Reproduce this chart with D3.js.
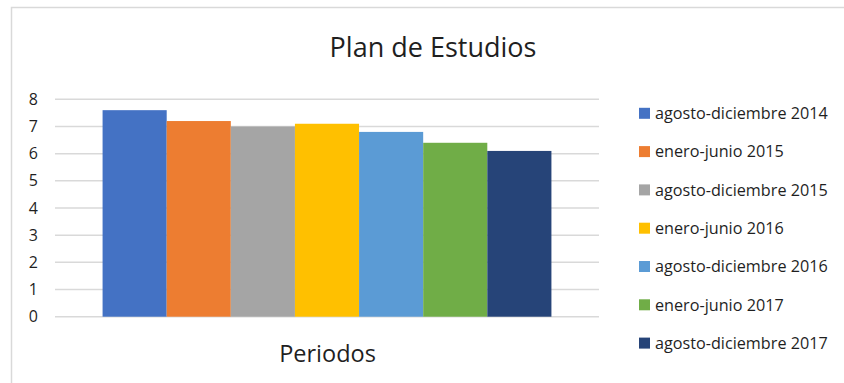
<!DOCTYPE html>
<html>
<head>
<meta charset="utf-8">
<script src="https://cdn.jsdelivr.net/npm/d3@7"></script>
<style>
  html, body { margin: 0; padding: 0; background: #fff; }
  svg { display: block; }
  text { font-family: "Open Sans", "Liberation Sans", sans-serif; fill: #1f1f1f; }
</style>
</head>
<body>
<svg id="chart" width="844" height="383"></svg>
<script>
// Chart data
const title = "Plan de Estudios";
const category = "Periodos";
const seriesNames = [
  "agosto-diciembre 2014",
  "enero-junio 2015",
  "agosto-diciembre 2015",
  "enero-junio 2016",
  "agosto-diciembre 2016",
  "enero-junio 2017",
  "agosto-diciembre 2017"
];
const seriesValues = [7.6, 7.2, 7.0, 7.1, 6.8, 6.4, 6.1];
const seriesColors = ["#4472C4", "#ED7D31", "#A5A5A5", "#FFC000", "#5B9BD5", "#70AD47", "#264478"];
const yTicks = [0, 1, 2, 3, 4, 5, 6, 7, 8];

const svg = d3.select("#chart");

// Chart area frame (continues past the right and bottom edges)
svg.append("rect")
  .attr("x", 11.5).attr("y", 7.5)
  .attr("width", 860).attr("height", 400)
  .attr("fill", "#fff")
  .attr("stroke", "#d9d9d9").attr("stroke-width", 1.5);

const plot = { left: 55, right: 599, top: 99.3, bottom: 316.7 };

const y = d3.scaleLinear().domain([0, 8]).range([plot.bottom, plot.top]);

const x0 = d3.scaleBand()
  .domain([category])
  .range([plot.left, plot.right])
  .paddingOuter(0.106);

const x1 = d3.scaleBand()
  .domain(seriesNames)
  .range([0, x0.bandwidth()])
  .padding(0);

const color = d3.scaleOrdinal().domain(seriesNames).range(seriesColors);

// Gridlines
svg.append("g")
  .selectAll("line")
  .data(yTicks)
  .join("line")
  .attr("x1", plot.left).attr("x2", plot.right)
  .attr("y1", d => y(d)).attr("y2", d => y(d))
  .attr("stroke", "#d9d9d9").attr("stroke-width", 1.5);

// Y axis labels
const yAxis = d3.axisLeft(y).tickValues(yTicks).tickSize(0).tickPadding(0).tickFormat(d3.format("d"));
const gy = svg.append("g")
  .attr("transform", `translate(${plot.left - 17},0)`)
  .call(yAxis);
gy.select(".domain").remove();
gy.selectAll("text")
  .attr("font-size", 16)
  .attr("fill", "#1f1f1f")
  .style("font-family", "'Open Sans', sans-serif");

// Bars
const group = svg.append("g")
  .attr("transform", `translate(${x0(category)},0)`);
group.selectAll("rect")
  .data(seriesNames.map((name, i) => ({ name, value: seriesValues[i] })))
  .join("rect")
  .attr("x", d => x1(d.name))
  .attr("y", d => y(d.value))
  .attr("width", x1.bandwidth())
  .attr("height", d => y(0) - y(d.value))
  .attr("fill", d => color(d.name));

// Title
svg.append("text")
  .attr("x", 433).attr("y", 57)
  .attr("text-anchor", "middle")
  .attr("font-size", 27)
  .text(title);

// Category axis title
svg.append("text")
  .attr("x", 327.5).attr("y", 362)
  .attr("text-anchor", "middle")
  .attr("font-size", 23.5)
  .text(category);

// Legend
const legend = svg.append("g")
  .selectAll("g")
  .data(seriesNames)
  .join("g")
  .attr("transform", (d, i) => `translate(639,${113.3 + i * 38.3})`);
legend.append("rect")
  .attr("x", 0).attr("y", -5.5)
  .attr("width", 11).attr("height", 11)
  .attr("fill", d => color(d));
legend.append("text")
  .attr("x", 16).attr("y", 5.8)
  .attr("font-size", 16.2)
  .text(d => d);
</script>
</body>
</html>
